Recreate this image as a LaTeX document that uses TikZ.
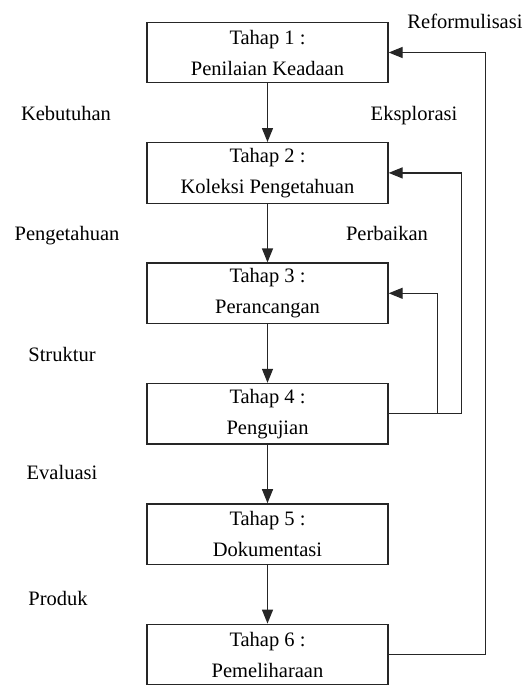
\documentclass[tikz,border=0pt]{standalone}
\usepackage{fontspec}
\setmainfont{Liberation Serif}
\usetikzlibrary{arrows.meta}
\begin{document}
\begin{tikzpicture}[x=1pt,y=-1pt,
  stage/.style={draw=black!85, line width=1.3pt, minimum width=241pt, minimum height=60.5pt, inner sep=0pt, align=center, font=\fontsize{20.5}{31}\selectfont},
  lbl/.style={font=\fontsize{20.5}{24}\selectfont, inner sep=0pt, anchor=base},
  flow/.style={draw=black!85, line width=1.3pt, -{Triangle[length=14pt,width=11pt]}}]
\useasboundingbox (0,0) rectangle (531,686);
\node[stage] (s1) at (267.5,52.5) {Tahap 1 :\\Penilaian Keadaan};
\node[stage] (s2) at (267.5,172.9) {Tahap 2 :\\Koleksi Pengetahuan};
\node[stage] (s3) at (267.5,293.3) {Tahap 3 :\\Perancangan};
\node[stage] (s4) at (267.5,413.7) {Tahap 4 :\\Pengujian};
\node[stage] (s5) at (267.5,534.1) {Tahap 5 :\\Dokumentasi};
\node[stage] (s6) at (267.5,654.5) {Tahap 6 :\\Pemeliharaan};
\draw[flow] (s1) -- (s2);
\draw[flow] (s2) -- (s3);
\draw[flow] (s3) -- (s4);
\draw[flow] (s4) -- (s5);
\draw[flow] (s5) -- (s6);
\draw[flow] (s6.east) -- ++(97,0) |- (s1.east);
\draw[flow] (s4.east) -- ++(73,0) |- (s2.east);
\draw[flow] (s4.east) -- ++(49,0) |- (s3.east);
\node[lbl] (rf) at (465,28) {Reformulisasi};
\node[lbl] (ek) at (414,120) {Eksplorasi};
\node[lbl] (pb) at (387,240) {Perbaikan};
\node[lbl] (kb) at (66,120) {Kebutuhan};
\node[lbl] (pg) at (67,240) {Pengetahuan};
\node[lbl] (st) at (62,361) {Struktur};
\node[lbl] (ev) at (62,479) {Evaluasi};
\node[lbl] (pr) at (58,605) {Produk};
\end{tikzpicture}
\end{document}
